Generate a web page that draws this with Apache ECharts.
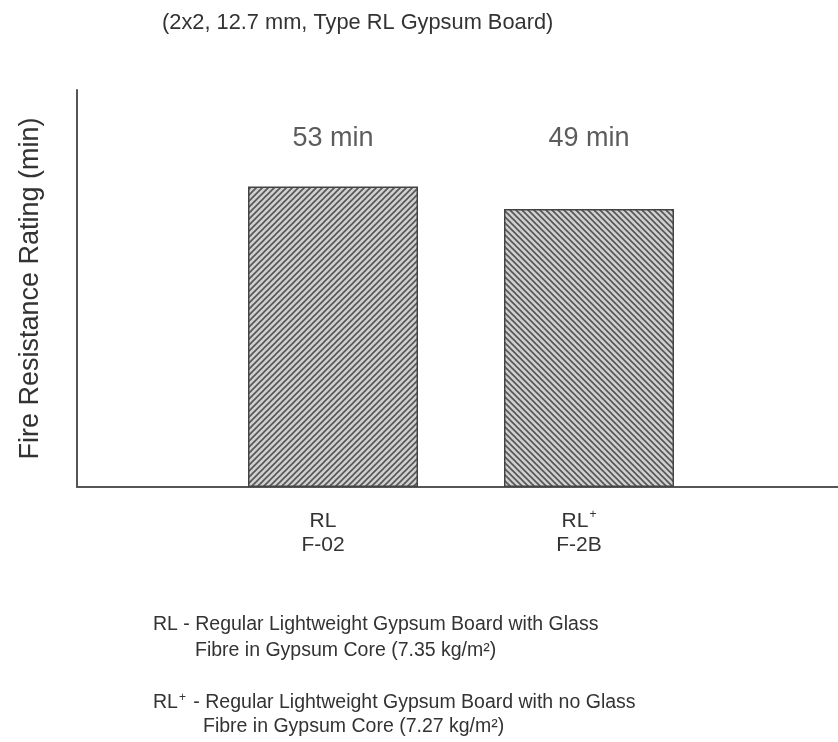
<!DOCTYPE html>
<html>
<head>
<meta charset="utf-8">
<script src="https://cdn.jsdelivr.net/npm/echarts@6/dist/echarts.min.js"></script>
<style>
  html, body { margin: 0; padding: 0; background: #ffffff; }
  #chart { width: 838px; height: 742px; }
</style>
</head>
<body>
<div id="chart"></div>
<script>
// ---- data ----
const categories = ['RL\nF-02', 'RL{sup|+}\nF-2B'];
const ratings = [53, 49];
const ratingLabels = ['53 min', '49 min'];
const yMax = 70;
const labelLevel = 61.5;
const titleText = '(2x2, 12.7 mm, Type RL Gypsum Board)';
const yAxisName = 'Fire Resistance Rating (min)';
const notes = [
  'RL - Regular Lightweight Gypsum Board with Glass',
  'Fibre in Gypsum Core (7.35 kg/m²)',
  'RL{sup|+} - Regular Lightweight Gypsum Board with no Glass',
  'Fibre in Gypsum Core (7.27 kg/m²)'
];

const FONT = '"Liberation Sans", Arial, sans-serif';
const TXT = '#333333';

function hatch(dir) {
  const s = 6;
  const c = document.createElement('canvas');
  c.width = s; c.height = s;
  const g = c.getContext('2d');
  g.fillStyle = '#d0d0d0';
  g.fillRect(0, 0, s, s);
  g.strokeStyle = '#555555';
  g.lineWidth = 1.6;
  g.beginPath();
  if (dir === '/') {
    g.moveTo(0, s); g.lineTo(s, 0);
    g.moveTo(-1, 1); g.lineTo(1, -1);
    g.moveTo(s - 1, s + 1); g.lineTo(s + 1, s - 1);
  } else {
    g.moveTo(0, 0); g.lineTo(s, s);
    g.moveTo(-1, s - 1); g.lineTo(1, s + 1);
    g.moveTo(s - 1, -1); g.lineTo(s + 1, 1);
  }
  g.stroke();
  return { image: c, repeat: 'repeat' };
}
const patterns = [hatch('/'), hatch('\\')];

const chart = echarts.init(document.getElementById('chart'), null, { renderer: 'canvas' });

const noteStyle = {
  fontFamily: FONT, fontSize: 19.5, color: TXT, fontWeight: 'normal',
  rich: { sup: { fontFamily: FONT, fontSize: 12, color: TXT, verticalAlign: 'top', padding: [0, 2, 10, 1] } }
};
const notePos = [[153, 615], [195, 641], [153, 692], [203, 717]];

const option = {
  animation: false,
  backgroundColor: '#ffffff',
  title: [
    { text: titleText, left: 162, top: 12, padding: 0, textStyle: { fontFamily: FONT, fontSize: 21.8, color: TXT, fontWeight: 'normal' } }
  ].concat(notes.map((t, i) => ({ text: t, left: notePos[i][0], top: notePos[i][1], padding: 0, textStyle: noteStyle }))),
  grid: [
    { left: 77, right: 0, top: 90, bottom: 255 },
    { left: 205, right: 121, top: 90, bottom: 255 }
  ],
  xAxis: [
    { type: 'value', gridIndex: 0, min: 0, max: 1, axisLine: { show: true, onZero: false, lineStyle: { color: '#555', width: 2 } },
      axisTick: { show: false }, axisLabel: { show: false }, splitLine: { show: false } },
    { type: 'category', gridIndex: 1, data: categories,
      axisLine: { show: false }, axisTick: { show: false }, splitLine: { show: false },
      axisLabel: { fontFamily: FONT, fontSize: 21, color: TXT, lineHeight: 24, margin: 22, padding: [0, 20, 0, 0],
        rich: { sup: { fontFamily: FONT, fontSize: 12, color: TXT, verticalAlign: 'top', padding: [0, 0, 12, 1] } } } }
  ],
  yAxis: [
    { type: 'value', gridIndex: 0, min: 0, max: yMax,
      name: yAxisName, nameLocation: 'middle', nameGap: 33,
      nameTextStyle: { fontFamily: FONT, fontSize: 27, color: TXT },
      axisLine: { show: true, onZero: false, lineStyle: { color: '#555', width: 2 } },
      axisTick: { show: false }, axisLabel: { show: false }, splitLine: { show: false } },
    { type: 'value', gridIndex: 1, min: 0, max: yMax, show: false, splitLine: { show: false } }
  ],
  series: [
    {
      type: 'bar', xAxisIndex: 1, yAxisIndex: 1, barWidth: 170,
      data: ratings.map((v, i) => ({ value: v, itemStyle: { color: patterns[i], borderColor: '#444', borderWidth: 1.5 } })),
      silent: true
    },
    {
      type: 'scatter', xAxisIndex: 1, yAxisIndex: 1, symbolSize: 0,
      data: ratingLabels.map(() => labelLevel),
      label: { show: true, position: 'inside', formatter: p => ratingLabels[p.dataIndex],
        fontFamily: FONT, fontSize: 27, color: TXT },
      silent: true
    }
  ]
};
chart.setOption(option);
</script>
</body>
</html>
